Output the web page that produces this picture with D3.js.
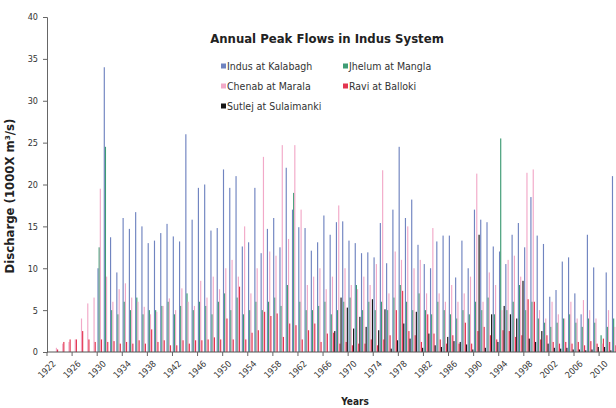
<!DOCTYPE html>
<html>
<head>
<meta charset="utf-8">
<script src="https://cdn.jsdelivr.net/npm/d3@7"></script>
<style>
  body { margin: 0; background: #fff; }
  text { font-family: "Liberation Sans Narrow", "DejaVu Sans Condensed", "Liberation Sans", Arial, sans-serif; }
</style>
</head>
<body>
<svg id="chart" width="616" height="408"></svg>
<script>
// years shown on the category axis
var years = [1922,1923,1924,1925,1926,1927,1928,1929,1930,1931,
             1932,1933,1934,1935,1936,1937,1938,1939,1940,1941,
             1942,1943,1944,1945,1946,1947,1948,1949,1950,1951,
             1952,1953,1954,1955,1956,1957,1958,1959,1960,1961,
             1962,1963,1964,1965,1966,1967,1968,1969,1970,1971,
             1972,1973,1974,1975,1976,1977,1978,1979,1980,1981,
             1982,1983,1984,1985,1986,1987,1988,1989,1990,1991,
             1992,1993,1994,1995,1996,1997,1998,1999,2000,2001,
             2002,2003,2004,2005,2006,2007,2008,2009,2010,2011,
             2012]

var tickYears = [1922,1926,1930,1934,1938,1942,1946,1950,1954,1958,1962,1966,
                 1970,1974,1978,1982,1986,1990,1994,1998,2002,2006,2010]

var yTicks = [0,5,10,15,20,25,30,35,40]

// peak discharge, 1000 m3/s
var indus = [null,null,null,null,null,null,null,null,10,34,
             13.7,9.5,16,14.7,16.7,15,13,13.3,14.2,15.3,
             13.8,13.2,26,15.8,19.6,20,14.5,14.8,21.8,19.6,
             21,12.6,13.1,19.6,11.8,14.7,16,12.5,22,17,
             14.9,14.8,12.1,13.1,16.3,14,15.5,15.6,13.3,13,
             11.8,11.9,11.3,15.4,10.6,17,24.5,16,18.2,12.8,
             10.5,10,13.2,13.9,13.9,8.9,13.3,10,17,15.8,
             15.5,12.6,12,10.5,14,15.4,12.5,18.5,13.9,12.9,
             6.6,7.4,10.8,11.3,7,4.5,14,10.1,null,9.5,
             21]

var jhelum = [null,null,null,null,null,null,null,null,12.5,24.5,
              5,4.5,6,5,6.5,4.5,5,5,5.5,6,
              4.5,5.5,7,5,6,5.5,4.5,6,7,5,
              6.5,4.5,5,6,5,6,6.5,5.5,8,19,
              6,5,5,5.5,6,4.5,5,6,6.5,8,
              5,6,5,6,5,6.5,8,6,5,7,
              5,4.5,6,5,4.5,4,5,4.5,6,5,
              6.5,4.5,25.5,5,6,8,5,6,4,3.5,
              3,3.5,4,4.5,3.5,3,4,3.5,2,3,
              4]

var chenab = [null,0.5,1,1.2,1.5,4,5.8,6.5,19.5,9,
              6,7.5,8.2,6.5,6,5.4,4.5,4.8,5.5,6.4,
              5,7.6,6,5.5,8.5,6.5,9,7.5,10,11,
              9,15,7,10,23.3,12,11.5,24.7,13.5,24.7,
              17,8,9,10,7.5,9,17.5,10,8,7.5,
              9,8,10.5,21.7,7,12,11,15,10,11,
              7,14.8,7,6,8,6,7,9,21.3,6,
              9.5,8,5,11,11.5,9,21.4,21.8,5,4,
              6,4.5,4,6,4,6.2,5,4,1,5,
              3]

var ravi = [null,0.3,1.2,1.5,1.5,2.5,1.5,1.2,1.5,1.2,
            1.3,1.0,1.2,1.0,1.4,1.0,2.7,1.2,1.4,0.8,
            0.8,1.4,1.0,1.4,1.4,1.5,1.75,1.5,4.0,1.5,
            7.8,1.5,2.3,2.6,4.8,4.3,4.6,1.8,3.4,3.2,
            1.5,2.6,3.4,1.2,2.2,2.3,1.0,1.2,0.8,1.0,
            1.0,1.5,0.8,1.5,2.0,5.0,7.3,2.5,2.0,1.2,
            4.5,2.2,1.5,1.0,2.0,1.0,3.5,1.0,2.5,3.0,
            2.0,1.5,2.6,2.5,1.8,2.0,6.3,6.0,1.5,2.0,
            1.2,1.0,1.2,1.0,1.2,0.8,1.3,1.0,1.6,1.2,
            0.8]

var sutlej = [null,null,null,null,null,null,null,null,null,null,
              null,null,null,null,null,null,null,null,null,null,
              null,null,null,null,null,null,null,null,null,null,
              null,null,null,null,null,null,null,null,null,null,
              null,null,null,null,null,2.5,6.5,5.3,2.8,4.2,
              3.0,6.3,2.6,5.1,0.4,1.4,3.4,1.6,4.8,0.5,
              2.2,0.8,0.6,1.8,1.3,1.2,0.9,0.3,14,0.5,
              4.5,1.2,5.5,4.5,4.0,8.5,1.6,1.2,2.5,1.0,
              0.5,0.4,0.5,0.3,0.3,0.2,0.3,0.6,0.6,0.2,
              0.1]

var seriesNames = ["Indus at Kalabagh","Jhelum at Mangla","Chenab at Marala","Ravi at Balloki","Sutlej at Sulaimanki"]
var seriesData  = [indus, jhelum, chenab, ravi, sutlej]
var colors      = ["#7084c0","#3e9c74","#f2a9c8","#e3354f","#161616"]

var svg = d3.select("#chart"),
    plotLeft = 47, plotTop = 17, plotBottom = 352,
    step = 6.274;

var x0 = d3.scaleBand()
  .domain(years)
  .range([plotLeft, plotLeft + years.length * step])
  .paddingInner(0.08)
  .paddingOuter(0.04);

var x1 = d3.scaleBand()
  .domain(d3.range(seriesNames.length))
  .range([0, x0.bandwidth()]);

var y = d3.scaleLinear().domain([0, 40]).range([plotBottom, plotTop]);

// bars, one group per series
seriesData.forEach(function(vals, s){
  svg.append("g")
    .attr("fill", colors[s])
    .selectAll("rect")
    .data(years.map(function(yr, i){ return {year: yr, v: vals[i]}; })
               .filter(function(d){ return d.v != null; }))
    .enter().append("rect")
      .attr("x", function(d){ return x0(d.year) + x1(s); })
      .attr("width", x1.bandwidth())
      .attr("y", function(d){ return y(d.v); })
      .attr("height", function(d){ return y(0) - y(d.v); });
});

// y axis
var yAxis = svg.append("g")
  .attr("transform", "translate(" + plotLeft + ",0)")
  .call(d3.axisLeft(y).tickValues(yTicks).tickSize(4).tickPadding(5));
yAxis.select(".domain").attr("stroke", "#666");
yAxis.selectAll(".tick line").attr("stroke", "#666");
yAxis.selectAll(".tick text").attr("font-size", 9).attr("fill", "#333");

// x axis
svg.append("line")
  .attr("x1", plotLeft).attr("x2", 616)
  .attr("y1", plotBottom).attr("y2", plotBottom)
  .attr("stroke", "#555");

svg.append("g").selectAll("line")
  .data(tickYears)
  .enter().append("line")
    .attr("x1", function(d){ return x0(d) - x0.step() * 0.04; })
    .attr("x2", function(d){ return x0(d) - x0.step() * 0.04; })
    .attr("y1", plotBottom).attr("y2", plotBottom + 4)
    .attr("stroke", "#666");

svg.append("g").selectAll("text")
  .data(tickYears)
  .enter().append("text")
    .attr("transform", function(d){
      return "translate(" + (x0(d) + x0.bandwidth() / 2 + 4) + "," + (plotBottom + 10) + ") rotate(-45)";
    })
    .attr("text-anchor", "end")
    .attr("dy", "0.35em")
    .attr("font-size", 9)
    .attr("fill", "#333")
    .text(function(d){ return d; });

// axis titles
svg.append("text")
  .attr("transform", "translate(14,196) rotate(-90)")
  .attr("text-anchor", "middle")
  .attr("font-size", 13)
  .attr("font-weight", "bold")
  .attr("fill", "#222")
  .text("Discharge (1000X m³/s)");

svg.append("text")
  .attr("x", 355).attr("y", 405)
  .attr("text-anchor", "middle")
  .attr("font-size", 10)
  .attr("font-weight", "bold")
  .attr("fill", "#222")
  .text("Years");

// title
svg.append("text")
  .attr("x", 327).attr("y", 43)
  .attr("text-anchor", "middle")
  .attr("font-size", 13)
  .attr("font-weight", "bold")
  .attr("fill", "#222")
  .text("Annual Peak Flows in Indus System");

// legend, two columns
var legendPos = [[221,66],[343,66],[221,86],[343,86],[221,106]];
var legend = svg.append("g").selectAll("g")
  .data(seriesNames)
  .enter().append("g")
    .attr("transform", function(d, i){ return "translate(" + legendPos[i][0] + "," + legendPos[i][1] + ")"; });

legend.append("rect")
  .attr("x", 0).attr("y", -2.5)
  .attr("width", 5).attr("height", 5)
  .attr("fill", function(d, i){ return colors[i]; });

legend.append("text")
  .attr("x", 6).attr("dy", "0.35em")
  .attr("font-size", 10.5)
  .attr("fill", "#333")
  .text(function(d){ return d; });
</script>
</body>
</html>
